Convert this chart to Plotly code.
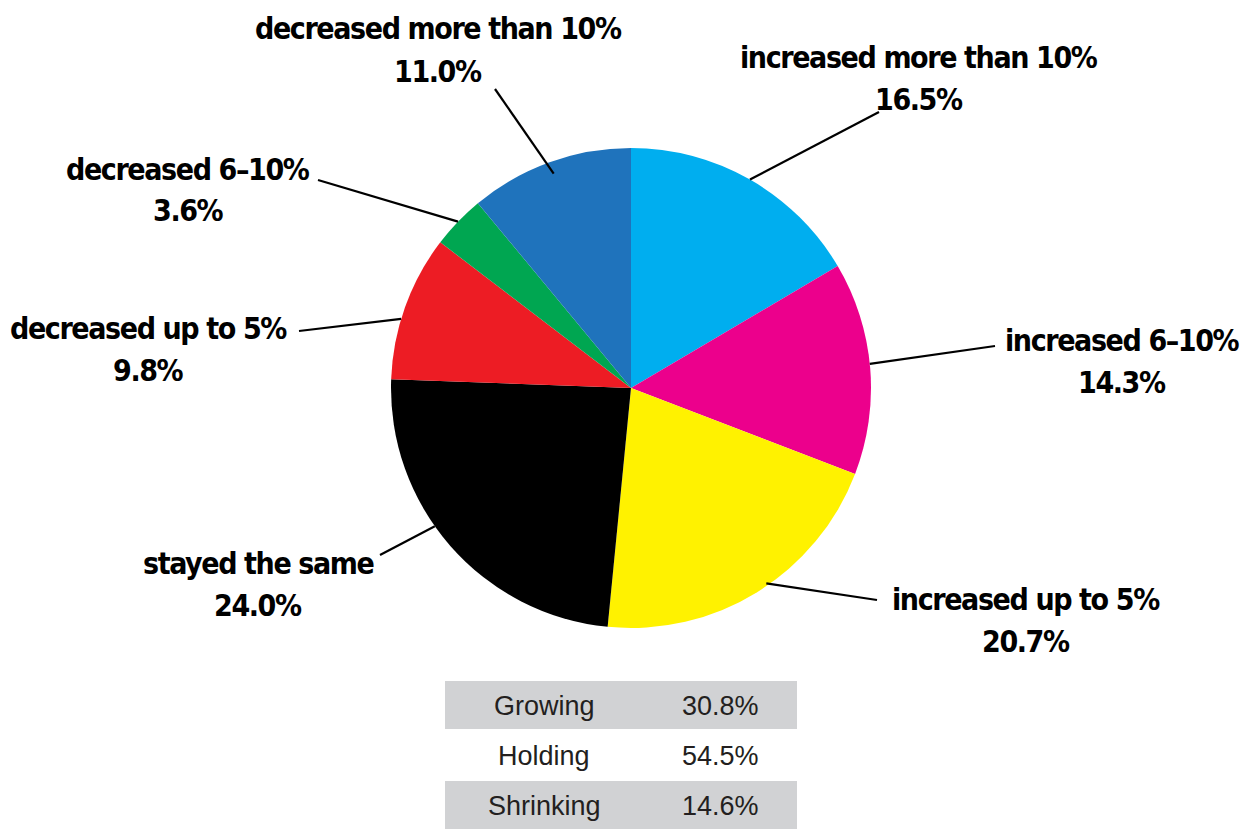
import math
import plotly.graph_objects as go

# Share of respondents by change category (clockwise from 12 o'clock)
categories = [
    "increased more than 10%",
    "increased 6–10%",
    "increased up to 5%",
    "stayed the same",
    "decreased up to 5%",
    "decreased 6–10%",
    "decreased more than 10%",
]
shares = [16.5, 14.3, 20.7, 24.0, 9.8, 3.6, 11.0]
slice_colors = ["#00AEEF", "#EC008C", "#FFF200", "#000000", "#ED1C24", "#00A651", "#1F73BC"]

# Summary table
groups = ["Growing", "Holding", "Shrinking"]
group_shares = [30.8, 54.5, 14.6]

W, H = 1256, 829
CX, CY, R = 631, 388, 240  # pie centre and radius in pixels

# label block centres and leader-line outer ends (pixels), plus small angular nudges
label_pos = [(919, 78), (1122, 361), (1026, 620), (258, 584), (148, 349), (188, 190), (438, 50)]
leader_end = [(879, 112), (995, 346), (877, 600), (380, 555), (299, 331), (318, 180), (495, 89)]
leader_nudge = [0, -1, -3, 6, -3, 0, 0]
leader_depth = [1.0, 1.0, 0.99, 1.0, 1.0, 1.0, 0.95]
HALF_LINE = 21  # half the distance between a label's two lines


def px(x, y):
    return x / W, 1 - y / H


LABEL_FONT = dict(family="DejaVu Sans Condensed, DejaVu Sans, sans-serif",
                  size=30, color="#000000", weight="bold")
TABLE_FONT = dict(family="Liberation Sans, Arial, sans-serif", size=27, color="#231F20")
TIGHT = '<span style="letter-spacing:-1.4px">{}</span>'

fig = go.Figure()
fig.add_trace(go.Pie(
    labels=categories,
    values=shares,
    sort=False,
    direction="clockwise",
    rotation=0,
    marker=dict(colors=slice_colors, line=dict(width=0)),
    textinfo="none",
    hovertemplate="%{label}: %{value:.1f}%<extra></extra>",
    domain=dict(x=[(CX - R) / W, (CX + R) / W], y=[1 - (CY + R) / H, 1 - (CY - R) / H]),
    showlegend=False,
))

shapes = []
annotations = []
total = sum(shares)
cum = 0.0
for i, (cat, val) in enumerate(zip(categories, shares)):
    mid = (cum + val / 2) / total * 360 + leader_nudge[i]
    cum += val
    a = math.radians(mid)
    r = R * leader_depth[i]
    sx, sy = CX + r * math.sin(a), CY - r * math.cos(a)
    x0, y0 = px(sx, sy)
    x1, y1 = px(*leader_end[i])
    shapes.append(dict(type="line", xref="paper", yref="paper", x0=x0, y0=y0, x1=x1, y1=y1,
                       line=dict(color="#000000", width=2.2)))
    cx_lbl, cy_lbl = label_pos[i]
    for line_text, dy in ((cat, -HALF_LINE), (f"{val:.1f}%", HALF_LINE)):
        lx, ly = px(cx_lbl, cy_lbl + dy)
        annotations.append(dict(xref="paper", yref="paper", x=lx, y=ly, xanchor="center", yanchor="middle",
                                text=TIGHT.format(line_text), showarrow=False, font=LABEL_FONT))

# summary table rows
TX0, TX1, TY0, ROW_H, COL_SPLIT = 445, 797, 680, 50, 643
for j, (g, v) in enumerate(zip(groups, group_shares)):
    top = TY0 + j * ROW_H
    if j % 2 == 0:
        ax0, ay0 = px(TX0, top + ROW_H - 1)
        ax1, ay1 = px(TX1, top + 1)
        shapes.append(dict(type="rect", xref="paper", yref="paper", x0=ax0, y0=ay0, x1=ax1, y1=ay1,
                           fillcolor="#D1D2D4", line=dict(width=0), layer="below"))
    cy = top + ROW_H / 2 + 1
    gx, gy = px((TX0 + COL_SPLIT) / 2, cy)
    vx, vy = px((COL_SPLIT + TX1) / 2, cy)
    annotations.append(dict(xref="paper", yref="paper", x=gx, y=gy, xanchor="center", yanchor="middle",
                            text=g, showarrow=False, font=TABLE_FONT))
    annotations.append(dict(xref="paper", yref="paper", x=vx, y=vy, xanchor="center", yanchor="middle",
                            text=f"{v:.1f}%", showarrow=False, font=TABLE_FONT))

fig.update_layout(
    width=W, height=H, autosize=False,
    margin=dict(l=0, r=0, t=0, b=0),
    paper_bgcolor="#FFFFFF", plot_bgcolor="#FFFFFF",
    shapes=shapes, annotations=annotations,
)

fig.write_html("out.html")
